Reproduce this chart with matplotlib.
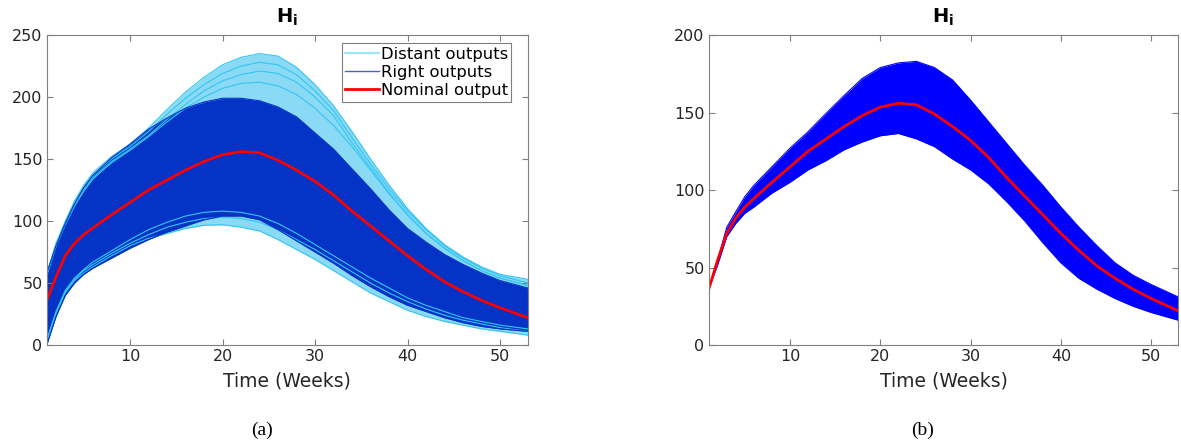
from matplotlib import pyplot as plt
import numpy as np

weeks = [1, 2, 3, 4, 5, 6, 8, 10, 12, 14, 16, 18, 20, 22, 24, 26, 28, 30,
         32, 34, 36, 38, 40, 42, 44, 46, 48, 50, 53]

nominal = [36, 55, 72, 82, 89, 94.5, 105, 115, 125, 133, 141, 148, 153.5, 156,
           155, 149, 141, 132, 121, 108, 96, 84, 72, 61, 51, 43, 36, 30, 22]

# (a) envelopes of the "right outputs" band
right_hi_a = [58, 80, 98, 114, 127, 137, 151, 162, 174, 183, 191, 196, 199, 199,
              197, 192, 184, 171, 158, 142, 126, 109, 94, 83, 73, 65, 58, 52, 46]
right_lo_a = [0, 23, 40, 50, 57, 62, 70, 78, 85, 91, 96, 101, 104, 104,
              101, 93, 84, 75, 66, 56, 47, 39, 32, 27, 22, 18, 15, 13, 11]

# (a) envelopes of the "distant outputs"
distant_hi = [58, 82, 100, 116, 129, 139, 152, 162, 175, 190, 204, 216, 226, 232,
              235, 233, 224, 210, 193, 172, 150, 129, 110, 94, 81, 71, 63, 57, 53]
distant_lo = [2, 25, 42, 52, 58, 63, 72, 80, 86, 90, 94, 96.5, 97, 95,
              92, 85, 77, 69, 60, 51, 42, 35, 28, 23, 19, 16, 13, 11, 8]

# a few single distant curves
distant_b = [57, 81, 99, 114, 127, 137, 150, 160, 172, 186, 199, 210, 219, 225,
             228, 226, 218, 205, 189, 167, 146, 126, 108, 93, 80, 70, 62, 56, 50]
distant_c = [57, 80, 98, 113, 125, 135, 148, 158, 169, 182, 194, 205, 213, 218,
             221, 219, 212, 200, 185, 163, 143, 123, 105, 90, 78, 68, 60, 54, 48]
distant_d = [56, 80, 97, 112, 124, 134, 147, 157, 168, 180, 191, 200, 207, 211,
             212, 209, 202, 191, 177, 160, 141, 122, 105, 90, 78, 68, 60, 54, 48]
distant_f = [3, 26, 43, 53, 60, 65, 74, 82, 89, 95, 99, 102, 103, 102,
             99, 93, 85, 77, 68, 59, 50, 42, 35, 29, 24, 20, 17, 14, 11]
distant_g = [4, 27, 44, 54, 61, 67, 76, 85, 93, 99, 104, 107, 108, 107,
             104, 98, 90, 81, 72, 63, 54, 46, 38, 32, 27, 22, 19, 16, 13]

# (b) envelopes
band_hi_b = [36, 55, 76, 86, 95.7, 103, 115, 127, 137.6, 149.5, 161, 172, 179, 182,
             183, 179, 171, 158, 144, 130, 116, 103, 89, 76, 64, 53, 45, 39, 31]
band_lo_b = [36, 52, 70, 78.5, 85, 89, 98, 105, 113, 119, 126, 131, 135, 136.5,
             133, 128, 120, 113, 104, 92.5, 80, 66, 53, 43, 36, 30, 25, 21, 16]

CYAN = '#33c6f2'
CYAN_LIGHT = '#8ad9f5'
DARK = '#0433c6'
BLUE = '#0000ff'
GRAY = '#7f7f7f'
TXT = '#262626'

plt.rcParams['font.family'] = 'DejaVu Sans'

fig = plt.figure(figsize=(11.81, 4.45), dpi=100)
axA = fig.add_axes([0.0396, 0.2247, 0.4073, 0.6966])
axB = fig.add_axes([0.6001, 0.2247, 0.3976, 0.6966])

# ---- (a)
axA.fill_between(weeks, distant_lo, distant_hi, color=CYAN_LIGHT, lw=0)
for c in (distant_hi, distant_b, distant_c, distant_d, distant_lo, distant_f, distant_g):
    axA.plot(weeks, c, color=CYAN, lw=0.8)
axA.fill_between(weeks, right_lo_a, right_hi_a, color=DARK, lw=0)
axA.plot(weeks, right_hi_a, color=DARK, lw=0.8)
axA.plot(weeks, right_lo_a, color=DARK, lw=0.8)
axA.plot(weeks, nominal, color='red', lw=2)
axA.set_ylim(0, 250)
axA.set_yticks(np.arange(0, 251, 50))

h1, = axA.plot([], [], color='#9ee6fb', lw=1.5, label='Distant outputs')
h2, = axA.plot([], [], color='#4a63c4', lw=1, label='Right outputs')
h3, = axA.plot([], [], color='red', lw=2, label='Nominal output')
leg = axA.legend(handles=[h1, h2, h3], loc='upper right', bbox_to_anchor=(0.966, 0.973),
                 fontsize=11.8, frameon=True, fancybox=False, framealpha=1,
                 edgecolor=GRAY, handlelength=2.1, handletextpad=0.1,
                 borderpad=0.2, labelspacing=0.2, borderaxespad=0)
leg.get_frame().set_linewidth(0.8)

# ---- (b)
axB.fill_between(weeks, band_lo_b, band_hi_b, color=BLUE, lw=0)
axB.plot(weeks, band_hi_b, color=BLUE, lw=0.8)
axB.plot(weeks, band_lo_b, color=BLUE, lw=0.8)
axB.plot(weeks, nominal, color='red', lw=2)
axB.set_ylim(0, 200)
axB.set_yticks(np.arange(0, 201, 50))

for ax in (axA, axB):
    ax.set_xlim(1, 53)
    ax.set_xticks([10, 20, 30, 40, 50])
    ax.tick_params(direction='in', top=True, right=True, length=4, width=0.8,
                   color=GRAY, labelcolor=TXT, labelsize=11.5, pad=3)
    for s in ax.spines.values():
        s.set_color(GRAY)
        s.set_linewidth(0.8)
    ax.set_xlabel('Time (Weeks)', fontsize=13.5, color=TXT, labelpad=5)
    ax.set_title(r'$\mathbf{H_i}$', fontsize=14, pad=9)

fig.text(0.222, 0.034, '(a)', family='Liberation Serif', fontsize=14, ha='center', va='center')
fig.text(0.781, 0.034, '(b)', family='Liberation Serif', fontsize=14, ha='center', va='center')

fig.savefig('out.png', dpi=100)
